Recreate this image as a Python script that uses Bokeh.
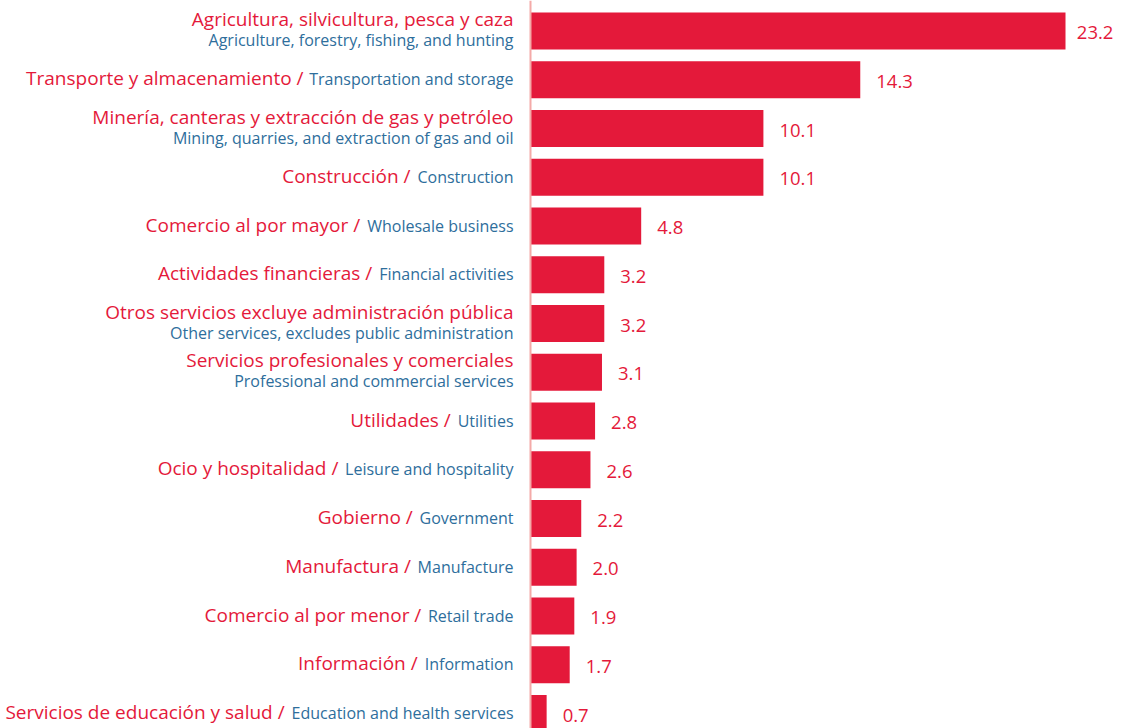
import glob
from bokeh.plotting import figure
from bokeh.models import Range1d, Span, ColumnDataSource
from bokeh.core.properties import value
from bokeh.embed import file_html
from bokeh.resources import INLINE

sectors_es = ["Agricultura, silvicultura, pesca y caza", "Transporte y almacenamiento",
              "Minería, canteras y extracción de gas y petróleo", "Construcción",
              "Comercio al por mayor", "Actividades financieras",
              "Otros servicios excluye administración pública",
              "Servicios profesionales y comerciales", "Utilidades", "Ocio y hospitalidad",
              "Gobierno", "Manufactura", "Comercio al por menor", "Información",
              "Servicios de educación y salud"]
sectors_en = ["Agriculture, forestry, fishing, and hunting", "Transportation and storage",
              "Mining, quarries, and extraction of gas and oil", "Construction",
              "Wholesale business", "Financial activities",
              "Other services, excludes public administration",
              "Professional and commercial services", "Utilities", "Leisure and hospitality",
              "Government", "Manufacture", "Retail trade", "Information",
              "Education and health services"]
values = [23.2, 14.3, 10.1, 10.1, 4.8, 3.2, 3.2, 3.1, 2.8, 2.6, 2.2, 2.0, 1.9, 1.7, 0.7]

RED = "#E4193A"
BLUE = "#2E6E9C"
AXIS = "#F4AAA8"
FONT = "Open Sans"
ES_SIZE = 19
EN_SIZE = 16
VAL_SIZE = 18.5

# --- text measurement (Pillow ships with bokeh) ---
def find_font(names):
    for n in names:
        for root in ("/usr/share/fonts", "/usr/local/share/fonts", "/root/.fonts"):
            hits = glob.glob(f"{root}/**/{n}", recursive=True)
            if hits:
                return hits[0]
    return None

try:
    from PIL import ImageFont
    _path = find_font(["OpenSans-Regular.ttf", "OpenSans*.ttf"])
    _cache = {}
    def text_w(s, size):
        key = round(size * 4)
        if key not in _cache:
            _cache[key] = ImageFont.truetype(_path, key)
        return _cache[key].getlength(s) / 4.0
    text_w("test", 10)
except Exception:
    def text_w(s, size):
        return len(s) * size * 0.53

W, H = 1123, 728
axis_px = 530          # frame x of zero line
label_right = 17       # gap between labels and zero line
bar_max_px = 535       # length of longest bar
k = bar_max_px / max(values)
row0, row_step = 30.5, 48.75
bar_h = 37 / row_step

n = len(values)
ys = list(range(n))

p = figure(width=W, height=H, output_backend="svg", toolbar_location=None,
           x_range=Range1d(-axis_px / k, (W - axis_px) / k),
           y_range=Range1d((H - row0) / row_step, -row0 / row_step),
           min_border=0, outline_line_color=None)
p.axis.visible = False
p.grid.visible = False
p.background_fill_color = "white"
p.border_fill_color = "white"

p.hbar(y=ys, left=0, right=values, height=bar_h, fill_color=RED, line_color=None)
p.add_layout(Span(location=0, dimension="height", line_color=AXIS, line_width=2))

avail = axis_px - label_right - 4
# labels
one_es, one_en, one_y, one_xoff_es = [], [], [], []
two_es, two_en, two_y = [], [], []
for i, (es, en) in enumerate(zip(sectors_es, sectors_en)):
    w_en = text_w(en, EN_SIZE)
    w_es = text_w(es + " /", ES_SIZE)
    gap = 7
    if w_en + gap + w_es <= avail:
        one_es.append(es + " /")
        one_en.append(en)
        one_y.append(i)
        one_xoff_es.append(-label_right - w_en - gap)
    else:
        two_es.append(es)
        two_en.append(en)
        two_y.append(i)

src1 = ColumnDataSource(dict(y=one_y, es=one_es, en=one_en, xo=one_xoff_es,
                             x=[0] * len(one_y)))
p.text(x="x", y="y", text="es", source=src1, x_offset="xo", y_offset=-1.5,
       text_align="right", text_baseline="middle", text_color=RED,
       text_font=value(FONT), text_font_size=f"{ES_SIZE}px")
p.text(x="x", y="y", text="en", source=src1, x_offset=-label_right, y_offset=-0.5,
       text_align="right", text_baseline="middle", text_color=BLUE,
       text_font=value(FONT), text_font_size=f"{EN_SIZE}px")

src2 = ColumnDataSource(dict(y=two_y, es=two_es, en=two_en, x=[0] * len(two_y)))
p.text(x="x", y="y", text="es", source=src2, x_offset=-label_right, y_offset=-12,
       text_align="right", text_baseline="middle", text_color=RED,
       text_font=value(FONT), text_font_size=f"{ES_SIZE}px")
p.text(x="x", y="y", text="en", source=src2, x_offset=-label_right, y_offset=9,
       text_align="right", text_baseline="middle", text_color=BLUE,
       text_font=value(FONT), text_font_size=f"{EN_SIZE}px")

# value labels
val_txt = [f"{v:.1f}" for v in values]
val_off = []
for v, t in zip(values, val_txt):
    end_px = axis_px + v * k
    room = W - end_px - text_w(t, VAL_SIZE) - 10
    val_off.append(min(16, room))
src3 = ColumnDataSource(dict(y=ys, x=values, t=val_txt, xo=val_off))
p.text(x="x", y="y", text="t", source=src3, x_offset="xo", y_offset=1.5,
       text_align="left", text_baseline="middle", text_color=RED,
       text_font=value(FONT), text_font_size=f"{VAL_SIZE}px")

open("out.html", "w").write(file_html(p, INLINE))
